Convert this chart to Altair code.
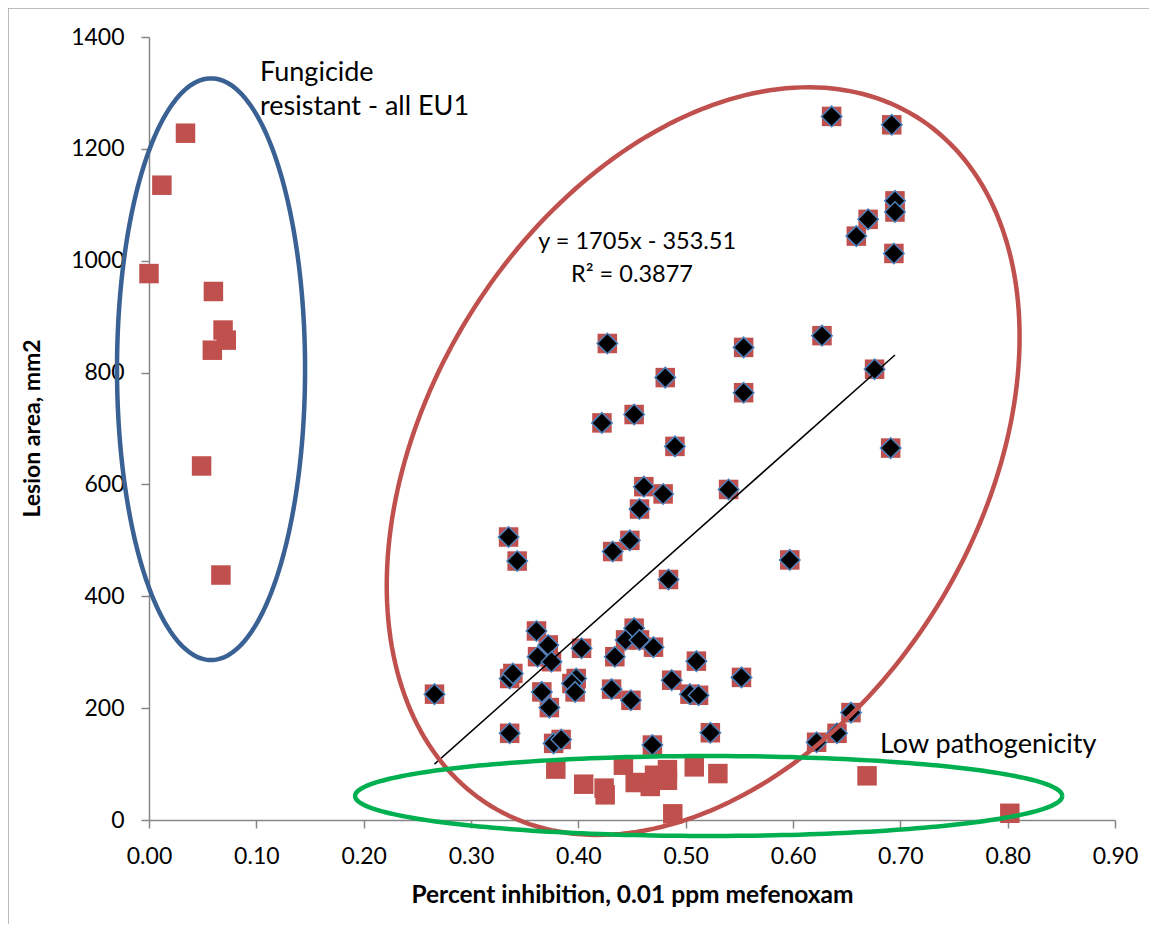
import altair as alt
import pandas as pd
import numpy as np

# ---------------- data ----------------
# fungicide resistant isolates (red squares only)
resistant_x = [0.000, 0.012, 0.034, 0.060, 0.059, 0.069, 0.072, 0.049, 0.067]
resistant_y = [977, 1135, 1228, 945, 840, 876, 858, 633, 438]

# low pathogenicity isolates (red squares only)
low_x = [0.379, 0.405, 0.424, 0.425, 0.442, 0.453, 0.467, 0.471, 0.483, 0.483, 0.488, 0.508, 0.530, 0.669, 0.802]
low_y = [91, 64, 57, 45, 98, 67, 60, 80, 90, 71, 11, 95, 83, 79, 12]

# isolates used in the regression (red squares + black diamonds)
sub_x = [0.266, 0.335, 0.343, 0.336, 0.339, 0.336, 0.361, 0.372, 0.362, 0.375,
         0.366, 0.373, 0.403, 0.398, 0.394, 0.397, 0.377, 0.384, 0.432, 0.484,
         0.434, 0.444, 0.452, 0.457, 0.470, 0.431, 0.449, 0.469, 0.487, 0.510,
         0.504, 0.512, 0.523, 0.552, 0.427, 0.481, 0.422, 0.452, 0.490, 0.461,
         0.479, 0.457, 0.540, 0.554, 0.554, 0.448, 0.627, 0.676, 0.691, 0.636,
         0.692, 0.695, 0.695, 0.670, 0.659, 0.694, 0.597, 0.654, 0.641, 0.622]
sub_y = [225, 506, 463, 253, 262, 155, 338, 313, 292, 283,
         229, 201, 307, 253, 244, 229, 137, 144, 480, 430,
         292, 322, 343, 322, 309, 234, 214, 134, 250, 284,
         225, 223, 156, 255, 852, 791, 710, 725, 668, 596,
         583, 556, 591, 845, 764, 500, 866, 806, 665, 1258,
         1243, 1107, 1087, 1074, 1044, 1013, 465, 192, 155, 139]

SLOPE = 1705
INTERCEPT = -353.51

x_ticks = [0.0, 0.1, 0.2, 0.3, 0.4, 0.5, 0.6, 0.7, 0.8, 0.9]
y_ticks = [0, 200, 400, 600, 800, 1000, 1200, 1400]

# annotation ellipses: centre and two conjugate half-axis vectors (data units)
ellipse_names = ["resistant", "regression", "low"]
ellipse_colors = ["#3A6193", "#C0504D", "#00B050"]
ellipse_centers = [(0.0578, 806.0), (0.5163, 641.7), (0.5214, 42.9)]
ellipse_v1 = [(0.0876, 0.0), (0.1978, 616.6), (0.3294, 0.0)]
ellipse_v2 = [(0.0, 520.0), (0.2186, -258.0), (0.0, 71.5)]

ann_text = ["Fungicide", "resistant - all EU1", "y = 1705x - 353.51", "R\u00b2 = 0.3877", "Low pathogenicity"]
ann_x = [0.1034, 0.1034, 0.4548, 0.4500, 0.6810]
ann_y = [1335, 1274, 1033, 974, 134]
ann_align = ["left", "left", "center", "center", "left"]
ann_size = [27, 27, 23.5, 23.5, 27]

# ---------------- tables ----------------
all_df = pd.DataFrame({"x": resistant_x + low_x + sub_x, "y": resistant_y + low_y + sub_y})
sub_df = pd.DataFrame({"x": sub_x, "y": sub_y})
x0, x1 = min(sub_x), max(sub_x)
trend_df = pd.DataFrame({"x": [x0, x1], "y": [SLOPE * x0 + INTERCEPT, SLOPE * x1 + INTERCEPT]})

frames = []
t = np.linspace(0, 2 * np.pi, 241)
for name, (cx, cy), v1, v2 in zip(ellipse_names, ellipse_centers, ellipse_v1, ellipse_v2):
    frames.append(pd.DataFrame({
        "x": cx + np.cos(t) * v1[0] + np.sin(t) * v2[0],
        "y": cy + np.cos(t) * v1[1] + np.sin(t) * v2[1],
        "o": np.arange(len(t)),
        "shape": name,
    }))
ell_df = pd.concat(frames, ignore_index=True)

ann_df = pd.DataFrame({"text": ann_text, "x": ann_x, "y": ann_y, "align": ann_align, "size": ann_size})

FONT = "Lato"
AXIS_COLOR = "#868686"

x_enc = alt.X("x:Q",
              scale=alt.Scale(domain=[0, 0.9], nice=False, zero=False),
              axis=alt.Axis(values=x_ticks, format=".2f", grid=False, labelFlush=False,
                            title="Percent inhibition, 0.01 ppm mefenoxam",
                            titleX=483, titleY=75, titleAlign="center", titleBaseline="middle",
                            tickSize=8, labelPadding=17, labelFontSize=23, labelFont=FONT,
                            titleFont=FONT, titleFontSize=24.5, titleFontWeight="bold",
                            domainColor=AXIS_COLOR, tickColor=AXIS_COLOR, labelColor="black",
                            titleColor="black", domainWidth=1.5, tickWidth=1.5))
y_enc = alt.Y("y:Q",
              scale=alt.Scale(domain=[0, 1400], nice=False, zero=False),
              axis=alt.Axis(values=y_ticks, format="d", grid=False, labelFlush=False,
                            title="Lesion area, mm2",
                            titleX=-117, titleY=391, titleAngle=270, titleAlign="center",
                            titleBaseline="middle",
                            tickSize=8, labelPadding=17, labelFontSize=23, labelFont=FONT,
                            titleFont=FONT, titleFontSize=23, titleFontWeight="bold",
                            domainColor=AXIS_COLOR, tickColor=AXIS_COLOR, labelColor="black",
                            titleColor="black", domainWidth=1.5, tickWidth=1.5))

squares = alt.Chart(all_df).mark_square(size=380, color="#C0504D", opacity=1).encode(x=x_enc, y=y_enc)

diamonds = alt.Chart(sub_df).mark_point(shape="diamond", filled=True, fill="black", stroke="#4F81BD",
                                        strokeWidth=1.5, size=420, opacity=1).encode(x=x_enc, y=y_enc)

trend = alt.Chart(trend_df).mark_line(color="black", strokeWidth=1.6).encode(x=x_enc, y=y_enc)

ellipses = alt.Chart(ell_df).mark_line(strokeWidth=4.5, clip=False).encode(
    x=x_enc, y=y_enc,
    color=alt.Color("shape:N", scale=alt.Scale(domain=ellipse_names, range=ellipse_colors), legend=None),
    order="o:Q",
)

texts_left = alt.Chart(ann_df[ann_df["align"] == "left"]).mark_text(
    font=FONT, color="black", baseline="middle", align="left").encode(
    x=x_enc, y=y_enc, text="text:N", size=alt.Size("size:Q", scale=None))
texts_center = alt.Chart(ann_df[ann_df["align"] == "center"]).mark_text(
    font=FONT, color="black", baseline="middle", align="center").encode(
    x=x_enc, y=y_enc, text="text:N", size=alt.Size("size:Q", scale=None))

border = alt.Chart(alt.Data(values=[{"a": 1}])).mark_rule(color="#A6A6A6", strokeWidth=1.5).encode(
    x=alt.value(-141), y=alt.value(-29), y2=alt.value(887))
border_top = alt.Chart(alt.Data(values=[{"a": 1}])).mark_rule(color="#A6A6A6", strokeWidth=1.5).encode(
    x=alt.value(-141), x2=alt.value(1000), y=alt.value(-29))

chart = alt.layer(squares, diamonds, trend, ellipses, texts_left, texts_center, border, border_top).properties(
    width=966, height=783,
    autosize=alt.AutoSizeParams(type="none"),
    padding={"left": 141, "top": 29, "right": 34, "bottom": 104},
    background="white",
).configure_view(stroke=None)

chart.save("out.html", embed_options={"renderer": "svg", "actions": False})
